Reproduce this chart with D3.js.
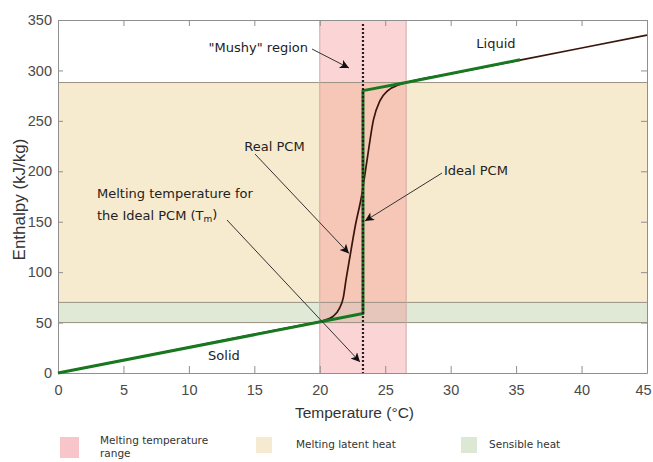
<!DOCTYPE html>
<html>
<head>
<meta charset="utf-8">
<script src="https://cdn.jsdelivr.net/npm/d3@7/dist/d3.min.js"></script>
<style>
  html, body { margin: 0; padding: 0; background: #fff; }
  svg { display: block; }
  .note { font-family: "DejaVu Sans", sans-serif; font-size: 13px; fill: #222; }
  .tick text { font-family: "Liberation Sans", Arial, sans-serif; font-size: 14.5px; fill: #4a4a4a; }
  .legend text { font-family: "DejaVu Sans", sans-serif; font-size: 10.5px; fill: #333; }
</style>
</head>
<body>
<svg id="chart" width="653" height="462"></svg>
<script>
// Real PCM enthalpy curve (temperature °C, enthalpy kJ/kg)
const realTemp     = [0, 10, 19, 20, 20.5, 21, 21.5, 21.8, 22.0, 22.3, 22.7, 23.2, 23.6, 24.1, 24.6, 25.2, 26.0, 26.6, 30, 35.3, 40, 45];
const realEnthalpy = [0, 25.5, 48.5, 51, 53, 56, 64, 75, 92, 115, 145, 176, 210, 251, 270, 280, 285.5, 288, 296.7, 310.2, 322.2, 335];

// Ideal PCM: sharp jump at the melting temperature
const idealTemp     = [0, 23.3, 23.3, 26.6, 35.3];
const idealEnthalpy = [0, 59, 280, 288, 310.5];

// Melting temperature of the ideal PCM and the ranges shaded behind the curves
const meltingTemp = 23.3;
const meltingRange = [20, 26.6];
const latentHeatRange = [70, 288];
const sensibleHeatRange = [50, 70];

// Axis ticks
const tempTicks = [0, 5, 10, 15, 20, 25, 30, 35, 40, 45];
const enthalpyTicks = [0, 50, 100, 150, 200, 250, 300, 350];

// Legend entries
const legendLabels = [["Melting temperature", "range"], ["Melting latent heat"], ["Sensible heat"]];
const legendColors = ["#f8c6ca", "#f6ead0", "#dde8d4"];

const svg = d3.select("#chart");
const margin = { top: 20, right: 6, bottom: 89, left: 58 };
const W = 653, H = 462;
const x = d3.scaleLinear().domain([0, 45]).range([margin.left, W - margin.right]);
const y = d3.scaleLinear().domain([0, 350]).range([H - margin.bottom, margin.top]);

const plot = svg.append("g");

// Shaded bands
plot.append("rect")
  .attr("x", x(0)).attr("width", x(45) - x(0))
  .attr("y", y(latentHeatRange[1])).attr("height", y(latentHeatRange[0]) - y(latentHeatRange[1]))
  .attr("fill", "#f7ebcf");
plot.append("rect")
  .attr("x", x(0)).attr("width", x(45) - x(0))
  .attr("y", y(sensibleHeatRange[1])).attr("height", y(sensibleHeatRange[0]) - y(sensibleHeatRange[1]))
  .attr("fill", "#dfe9d5");
plot.append("rect")
  .attr("x", x(meltingRange[0])).attr("width", x(meltingRange[1]) - x(meltingRange[0]))
  .attr("y", y(350)).attr("height", y(0) - y(350))
  .attr("fill", "rgb(244,135,142)").attr("fill-opacity", 0.36);

// Band edges
const hEdges = [latentHeatRange[1], latentHeatRange[0], sensibleHeatRange[0]];
plot.selectAll(".hedge").data(hEdges).join("line")
  .attr("x1", x(0)).attr("x2", x(45))
  .attr("y1", d => y(d)).attr("y2", d => y(d))
  .attr("stroke", "#9a9282").attr("stroke-width", 1);
plot.selectAll(".vedge").data(meltingRange).join("line")
  .attr("x1", d => x(d)).attr("x2", d => x(d))
  .attr("y1", y(0)).attr("y2", y(350))
  .attr("stroke", "#d4a8a8").attr("stroke-width", 1);

// Axes with inward ticks on all four sides
const frameColor = "#8f8f8f";
function styleAxis(g) {
  g.select(".domain").attr("stroke", frameColor);
  g.selectAll(".tick line").attr("stroke", frameColor);
}
svg.append("g").attr("transform", `translate(0,${y(0)})`)
  .call(d3.axisBottom(x).tickValues(tempTicks).tickSizeInner(-7).tickSizeOuter(0).tickPadding(12))
  .call(styleAxis)
  .call(g => g.selectAll(".tick text").filter(d => d === 45).attr("dx", -4));
svg.append("g").attr("transform", `translate(0,${y(350)})`)
  .call(d3.axisTop(x).tickValues(tempTicks).tickSizeInner(-6).tickSizeOuter(0).tickFormat(""))
  .call(styleAxis);
svg.append("g").attr("transform", `translate(${x(0)},0)`)
  .call(d3.axisLeft(y).tickValues(enthalpyTicks).tickSizeInner(-5).tickSizeOuter(0).tickPadding(6))
  .call(styleAxis);
svg.append("g").attr("transform", `translate(${x(45)},0)`)
  .call(d3.axisRight(y).tickValues(enthalpyTicks).tickSizeInner(-6).tickSizeOuter(0).tickFormat(""))
  .call(styleAxis);
svg.selectAll(".tick text").attr("font-size", null).attr("font-family", null);

// Curves
const realLine = d3.line().x(i => x(realTemp[i])).y(i => y(realEnthalpy[i])).curve(d3.curveMonotoneX);
const idealLine = d3.line().x(i => x(idealTemp[i])).y(i => y(idealEnthalpy[i]));

svg.append("path")
  .attr("d", realLine(d3.range(realTemp.length)))
  .attr("fill", "none").attr("stroke", "#3a150c").attr("stroke-width", 1.7);
svg.append("path")
  .attr("d", idealLine(d3.range(idealTemp.length)))
  .attr("fill", "none").attr("stroke", "#17781f").attr("stroke-width", 3)
  .attr("stroke-linejoin", "round");

// Melting temperature marker
svg.append("line")
  .attr("x1", x(meltingTemp)).attr("x2", x(meltingTemp))
  .attr("y1", y(350) + 4).attr("y2", y(0))
  .attr("stroke", "#2a1a26").attr("stroke-width", 2.2).attr("stroke-dasharray", "2,2");

// Arrowhead
svg.append("defs").append("marker")
  .attr("id", "arrow").attr("viewBox", "0 0 10 10")
  .attr("refX", 10).attr("refY", 5)
  .attr("markerWidth", 12).attr("markerHeight", 9)
  .attr("markerUnits", "userSpaceOnUse")
  .attr("orient", "auto")
  .append("path").attr("d", "M0,0 L10,5 L0,10 L2.5,5 Z").attr("fill", "#111");

const arrows = [
  [[19.41, 321.2], [22.23, 302.4]],
  [[15.05, 217.1], [22.23, 118.5]],
  [[29.34, 198.3], [23.45, 150.7]],
  [[12.91, 151.7], [23.07, 11.0]]
];
svg.selectAll(".arrow").data(arrows).join("line")
  .attr("x1", d => x(d[0][0])).attr("y1", d => y(d[0][1]))
  .attr("x2", d => x(d[1][0])).attr("y2", d => y(d[1][1]))
  .attr("stroke", "#333").attr("stroke-width", 1)
  .attr("marker-end", "url(#arrow)");

// Annotations
function note(t, h, text, anchor) {
  return svg.append("text").attr("class", "note")
    .attr("x", x(t)).attr("y", y(h)).attr("dy", "0.35em")
    .attr("text-anchor", anchor || "middle").text(text);
}
note(19.1, 322.9, "\"Mushy\" region", "end");
note(33.46, 327.2, "Liquid");
note(16.54, 225, "Real PCM");
note(29.49, 201.3, "Ideal PCM", "start");
note(2.98, 178.5, "Melting temperature for", "start");
const tm = note(2.98, 156.7, "the Ideal PCM (T", "start");
tm.append("tspan").attr("font-size", "9px").attr("dy", "0.25em").text("m");
tm.append("tspan").attr("dy", "-0.25em").text(")");
note(12.68, 17.8, "Solid");

// Axis titles
svg.append("text")
  .attr("x", (x(0) + x(45)) / 2 + 2).attr("y", 413).attr("dy", "0.35em")
  .attr("text-anchor", "middle")
  .attr("font-family", "Liberation Sans, Arial, sans-serif").attr("font-size", 15.5).attr("fill", "#333")
  .text("Temperature (°C)");
svg.append("text")
  .attr("transform", `translate(19,${(y(0) + y(350)) / 2 + 3}) rotate(-90)`)
  .attr("dy", "0.35em").attr("text-anchor", "middle")
  .attr("font-family", "Liberation Sans, Arial, sans-serif").attr("font-size", 17).attr("fill", "#333")
  .text("Enthalpy (kJ/kg)");

// Legend
const legendX = [60, 256, 461];
const legendTextX = [40, 40, 28];
const legend = svg.append("g").attr("class", "legend");
legendLabels.forEach((lines, i) => {
  const g = legend.append("g").attr("transform", `translate(${legendX[i]},0)`);
  g.append("rect").attr("x", 0).attr("y", 437)
    .attr("width", i === 0 ? 19 : 16).attr("height", i === 0 ? 21 : 16)
    .attr("fill", legendColors[i]);
  const t = g.append("text").attr("y", lines.length > 1 ? 444 : 448);
  lines.forEach((ln, j) => t.append("tspan").attr("x", legendTextX[i]).attr("dy", j ? "1.2em" : 0).text(ln));
});
</script>
</body>
</html>
